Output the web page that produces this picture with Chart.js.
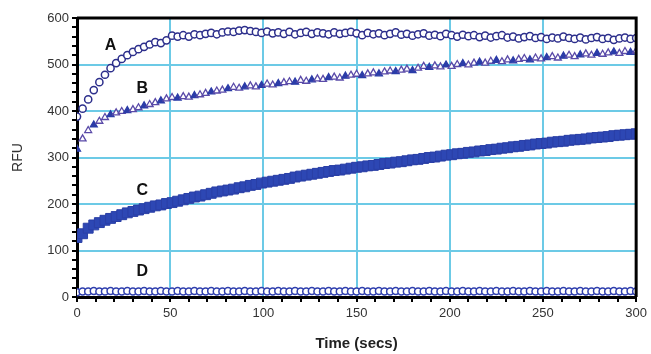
<!DOCTYPE html>
<html>
<head>
<meta charset="utf-8">
<script src="https://cdn.jsdelivr.net/npm/chart.js@4.4.0/dist/chart.umd.min.js"></script>
<style>
    html, body { margin: 0; padding: 0; background: #ffffff; }
    #wrap { width: 651px; height: 354px; }
</style>
</head>
<body>
<div id="wrap"><canvas id="rfuChart" width="651" height="354"></canvas></div>
<script>
const timeSecs = [
    0, 3, 6, 9, 12, 15, 18, 21, 24, 27, 30, 33, 36, 39, 42, 45, 48, 51, 54, 57,
    60, 63, 66, 69, 72, 75, 78, 81, 84, 87, 90, 93, 96, 99, 102, 105, 108, 111, 114, 117,
    120, 123, 126, 129, 132, 135, 138, 141, 144, 147, 150, 153, 156, 159, 162, 165, 168, 171, 174, 177,
    180, 183, 186, 189, 192, 195, 198, 201, 204, 207, 210, 213, 216, 219, 222, 225, 228, 231, 234, 237,
    240, 243, 246, 249, 252, 255, 258, 261, 264, 267, 270, 273, 276, 279, 282, 285, 288, 291, 294, 297, 300,
];

const seriesA = [
    388, 405, 425, 445, 462, 478, 492, 503, 512, 520, 527, 533, 538, 543, 548, 546, 552, 562, 560, 563,
    560, 565, 563, 566, 568, 565, 569, 571, 570, 573, 574, 572, 570, 568, 571, 567, 569, 566, 570, 565,
    568, 570, 566, 569, 567, 565, 569, 566, 568, 570, 567, 563, 568, 565, 567, 563, 566, 569, 564, 566,
    562, 565, 567, 562, 564, 561, 566, 563, 560, 564, 561, 563, 559, 562, 558, 561, 563, 558, 560, 556,
    559, 561, 557, 559, 555, 558, 556, 560, 557, 555, 558, 554, 557, 559, 555, 557, 553, 556, 558, 555, 557,
];

const seriesB = [
    318, 340, 358, 370, 378, 386, 392, 396, 399, 401, 403, 407, 411, 414, 418, 422, 426, 429, 428, 431,
    430, 433, 435, 438, 441, 443, 445, 448, 451, 449, 452, 454, 452, 455, 458, 456, 459, 461, 463, 462,
    466, 464, 467, 469, 468, 472, 473, 471, 475, 477, 479, 476, 480, 482, 480, 484, 486, 485, 488, 490,
    487, 492, 496, 494, 497, 495, 499, 496, 500, 502, 499, 503, 505, 503, 507, 509, 506, 510, 508, 511,
    513, 510, 514, 512, 515, 517, 514, 518, 520, 517, 521, 523, 520, 524, 522, 525, 527, 524, 528, 526, 529,
];

const seriesC = [
    128, 136, 148, 155, 160, 165, 169, 173, 177, 181, 184, 187, 190, 193, 196, 198, 201, 203, 206, 209,
    212, 215, 217, 220, 223, 226, 228, 230, 232, 235, 237, 240, 242, 245, 247, 249, 251, 253, 255, 258,
    260, 262, 264, 266, 268, 270, 272, 273, 275, 277, 279, 280, 282, 283, 285, 287, 288, 290, 291, 293,
    295, 296, 298, 300, 301, 303, 305, 306, 308, 309, 311, 312, 314, 315, 317, 318, 320, 321, 323, 324,
    326, 327, 329, 330, 331, 333, 334, 335, 337, 338, 339, 340, 342, 343, 344, 345, 347, 348, 349, 350, 351,
];

const seriesD = [
    10, 12, 12, 13, 12, 12, 13, 12, 12, 13, 12, 12, 13, 12, 12, 13, 12, 12, 13, 12,
    12, 13, 12, 12, 13, 12, 12, 13, 12, 12, 13, 12, 12, 13, 12, 12, 13, 12, 12, 13,
    12, 12, 13, 12, 12, 13, 12, 12, 13, 12, 12, 13, 12, 12, 13, 12, 12, 13, 12, 12,
    13, 12, 12, 13, 12, 12, 13, 12, 12, 13, 12, 12, 13, 12, 12, 13, 12, 12, 13, 12,
    12, 13, 12, 12, 13, 12, 12, 13, 12, 12, 13, 12, 12, 13, 12, 12, 13, 12, 12, 13, 12,
];

const curveLabels = [
    { text: 'A', t: 18, v: 540 },
    { text: 'B', t: 35, v: 448 },
    { text: 'C', t: 35, v: 229 },
    { text: 'D', t: 35, v: 54 },
];

const GRID_CYAN = '#6ccae6';
const FONT = '"Liberation Sans", Arial, sans-serif';

function toPoints(values) {
    return values.map((v, i) => ({ x: timeSecs[i], y: v }));
}

// black frame on top/right + the A..D letters
const framePlugin = {
    id: 'frame',
    afterDatasetsDraw(chart) {
        const { ctx, chartArea, scales } = chart;
        ctx.save();
        ctx.fillStyle = '#111111';
        ctx.font = 'bold 16px ' + FONT;
        ctx.textAlign = 'center';
        ctx.textBaseline = 'middle';
        curveLabels.forEach((lbl) => {
            ctx.fillText(lbl.text, scales.x.getPixelForValue(lbl.t), scales.y.getPixelForValue(lbl.v));
        });
        ctx.strokeStyle = '#000000';
        ctx.lineWidth = 3;
        ctx.beginPath();
        ctx.moveTo(chartArea.left, chartArea.top);
        ctx.lineTo(chartArea.right, chartArea.top);
        ctx.lineTo(chartArea.right, chartArea.bottom);
        ctx.stroke();
        ctx.restore();
    },
};

const ctx = document.getElementById('rfuChart');
new Chart(ctx, {
    type: 'line',
    data: {
        datasets: [
            {
                label: 'D',
                data: toPoints(seriesD),
                showLine: true,
                borderColor: '#2f3fae',
                borderWidth: 3,
                pointStyle: 'circle',
                pointRadius: 3.5,
                pointBorderWidth: 1.5,
                pointBorderColor: '#2f3fae',
                pointBackgroundColor: '#ffffff',
            },
            {
                label: 'C',
                data: toPoints(seriesC),
                showLine: false,
                pointStyle: 'rect',
                pointRadius: 7,
                pointBorderWidth: 1,
                pointBorderColor: '#2a3fa6',
                pointBackgroundColor: '#2d47b4',
            },
            {
                label: 'B',
                data: toPoints(seriesB),
                showLine: false,
                pointStyle: 'triangle',
                pointRadius: 4,
                pointBorderWidth: 1.3,
                pointBorderColor: (c) => (c.dataIndex % 3 === 0 ? '#2b3ca8' : '#5a4aa8'),
                pointBackgroundColor: (c) => (c.dataIndex % 3 === 0 ? '#2b3ca8' : '#ffffff'),
            },
            {
                label: 'A',
                data: toPoints(seriesA),
                showLine: false,
                pointStyle: 'circle',
                pointRadius: 3.6,
                pointBorderWidth: 1.5,
                pointBorderColor: '#2d2f8c',
                pointBackgroundColor: '#ffffff',
            },
        ],
    },
    options: {
        responsive: false,
        animation: false,
        layout: { padding: { left: 0, right: 14, top: 18, bottom: 0 } },
        plugins: { legend: { display: false }, tooltip: { enabled: false } },
        scales: {
            x: {
                type: 'linear',
                min: 0,
                max: 300,
                afterFit: (scale) => { scale.height = 57; },
                border: { color: '#000000', width: 3 },
                grid: {
                    color: (c) => (c.tick && c.tick.value % 50 === 0 && c.tick.value > 0 && c.tick.value < 300 ? GRID_CYAN : 'rgba(0,0,0,0)'),
                    lineWidth: 2,
                    tickColor: '#000000',
                    tickLength: 5,
                    tickWidth: 2,
                },
                ticks: {
                    stepSize: 10,
                    autoSkip: false,
                    maxRotation: 0,
                    padding: 4,
                    color: '#333333',
                    font: { family: FONT, size: 13 },
                    callback: (v) => (v % 50 === 0 ? v : ''),
                },
                title: {
                    display: true,
                    text: 'Time (secs)',
                    color: '#222222',
                    padding: { top: 4, bottom: 1 },
                    font: { family: FONT, size: 15, weight: 'bold' },
                },
            },
            y: {
                min: 0,
                max: 600,
                afterFit: (scale) => { scale.width = 77; },
                border: { color: '#000000', width: 3 },
                grid: {
                    color: (c) => (c.tick && c.tick.value % 100 === 0 && c.tick.value > 0 && c.tick.value < 600 ? GRID_CYAN : 'rgba(0,0,0,0)'),
                    lineWidth: 2,
                    tickColor: '#000000',
                    tickLength: 5,
                    tickWidth: 2,
                },
                ticks: {
                    stepSize: 20,
                    autoSkip: false,
                    padding: 3,
                    color: '#333333',
                    font: { family: FONT, size: 13 },
                    callback: (v) => (v % 100 === 0 ? v : ''),
                },
                title: {
                    display: true,
                    text: 'RFU',
                    color: '#333333',
                    padding: { top: 10, bottom: 4 },
                    font: { family: FONT, size: 14 },
                },
            },
        },
    },
    plugins: [framePlugin],
});
</script>
</body>
</html>
